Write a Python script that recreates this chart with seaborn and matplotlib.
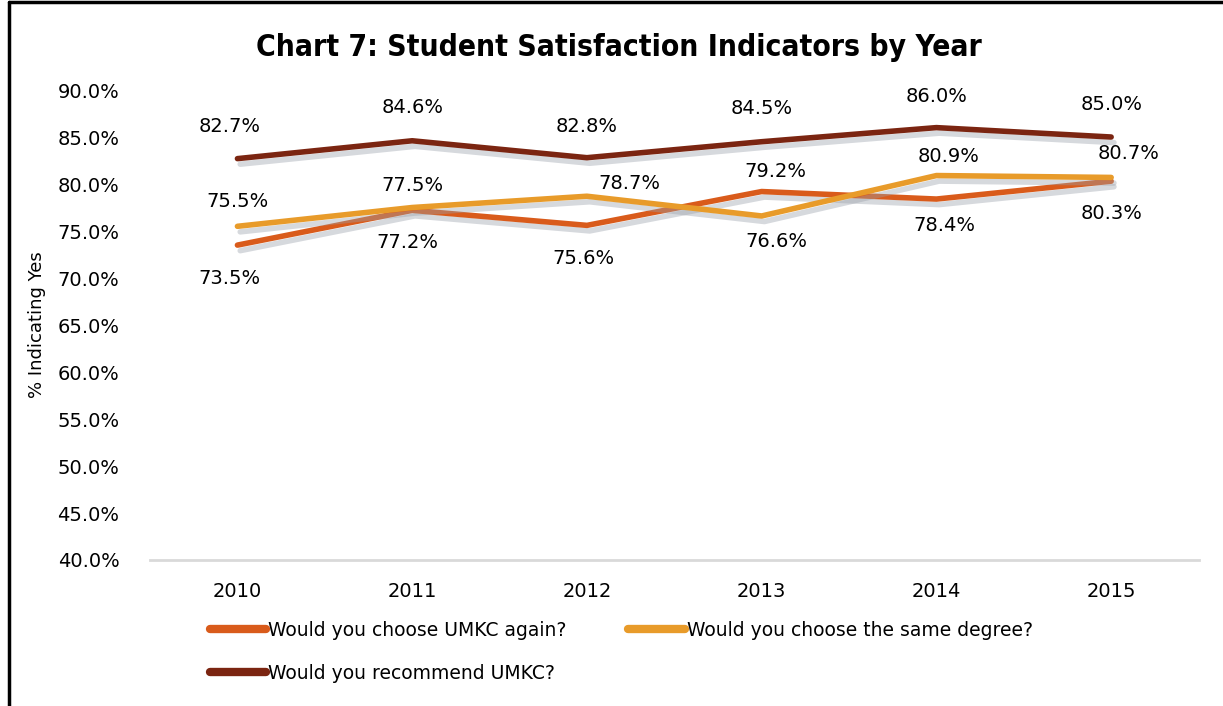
import pandas as pd
import matplotlib.pyplot as plt
import matplotlib.patheffects as pe
from matplotlib.lines import Line2D
import seaborn as sns

# Data
years = ['2010', '2011', '2012', '2013', '2014', '2015']
series_names = ['Would you choose UMKC again?',
                'Would you choose the same degree?',
                'Would you recommend UMKC?']
choose_again = [73.5, 77.2, 75.6, 79.2, 78.4, 80.3]
same_degree = [75.5, 77.5, 78.7, 76.6, 80.9, 80.7]
recommend = [82.7, 84.6, 82.8, 84.5, 86.0, 85.0]
colors = ['#D95B1B', '#E89B2A', '#7B2511']

# label offsets in pixels (dx, dy) for each point
offsets = {
    series_names[0]: [(-8, -33), (-5, -32), (-3, -33), (14, 20), (8, -26), (0, -32)],
    series_names[1]: [(0, 25), (0, 22), (42, 13), (15, -26), (12, 19), (17, 24)],
    series_names[2]: [(-8, 32), (0, 33), (0, 31), (0, 33), (0, 31), (0, 33)],
}

df = pd.DataFrame({
    'Year': years * 3,
    'Value': choose_again + same_degree + recommend,
    'Series': [s for s in series_names for _ in years],
})

sns.set_style("white")
plt.rcParams['font.family'] = ['DejaVu Sans']
for k in ['text.color', 'axes.labelcolor', 'xtick.color', 'ytick.color']:
    plt.rcParams[k] = 'black'

fig = plt.figure(figsize=(12.23, 7.06), dpi=100)
ax = fig.add_axes([0.1227, 0.2068, 0.8573, 0.6657])

sns.lineplot(data=df, x='Year', y='Value', hue='Series', palette=colors,
             hue_order=series_names, linewidth=4, sort=False, ax=ax, legend=False)

# soft drop shadow like the original
shadow = [pe.SimpleLineShadow(offset=(2, -4), shadow_color='#9aa0aa', alpha=0.4),
          pe.Normal()]
for line in ax.lines:
    line.set_path_effects(shadow)

# data labels
for name, vals in zip(series_names, [choose_again, same_degree, recommend]):
    for i, v in enumerate(vals):
        dx, dy = offsets[name][i]
        ax.annotate(f"{v:.1f}%", (i, v), xytext=(dx, dy), textcoords='offset pixels',
                    ha='center', va='center', fontsize=14)

ax.set_xlim(-0.5, 5.5)
ax.set_ylim(40, 90)
ax.set_yticks(range(40, 91, 5))
ax.set_yticklabels([f"{t:.1f}%" for t in range(40, 91, 5)], fontsize=14)
ax.tick_params(axis='x', labelsize=14, pad=16)
ax.tick_params(axis='y', pad=22)
ax.set_xlabel('')
ax.set_ylabel('% Indicating Yes', fontsize=13, labelpad=8)
for side in ['top', 'right', 'left']:
    ax.spines[side].set_visible(False)
ax.spines['bottom'].set_color('#d9d9d9')
ax.spines['bottom'].set_linewidth(2)
ax.tick_params(length=0)

fig.text(0.506, 0.933, 'Chart 7: Student Satisfaction Indicators by Year',
         ha='center', va='center', fontsize=21.5, fontweight='bold',
         fontstretch='condensed', family='DejaVu Sans')

# legend
handles = [Line2D([0], [0], color=c, lw=6, solid_capstyle='round') for c in colors]
order = [0, 2, 1]
fig.legend([handles[i] for i in order], [series_names[i] for i in order],
           ncol=2, loc='upper left', bbox_to_anchor=(0.158, 0.145),
           frameon=False, fontsize=13.5, handlelength=3.0, handletextpad=0.1,
           columnspacing=3.3, labelspacing=1.3)

# frame border
fig.add_artist(Line2D([0.007, 0.007], [0, 0.997], color='black', lw=2.5,
                      transform=fig.transFigure))
fig.add_artist(Line2D([0.007, 1.0], [0.997, 0.997], color='black', lw=2.5,
                      transform=fig.transFigure))

plt.savefig('out.png', dpi=100)
